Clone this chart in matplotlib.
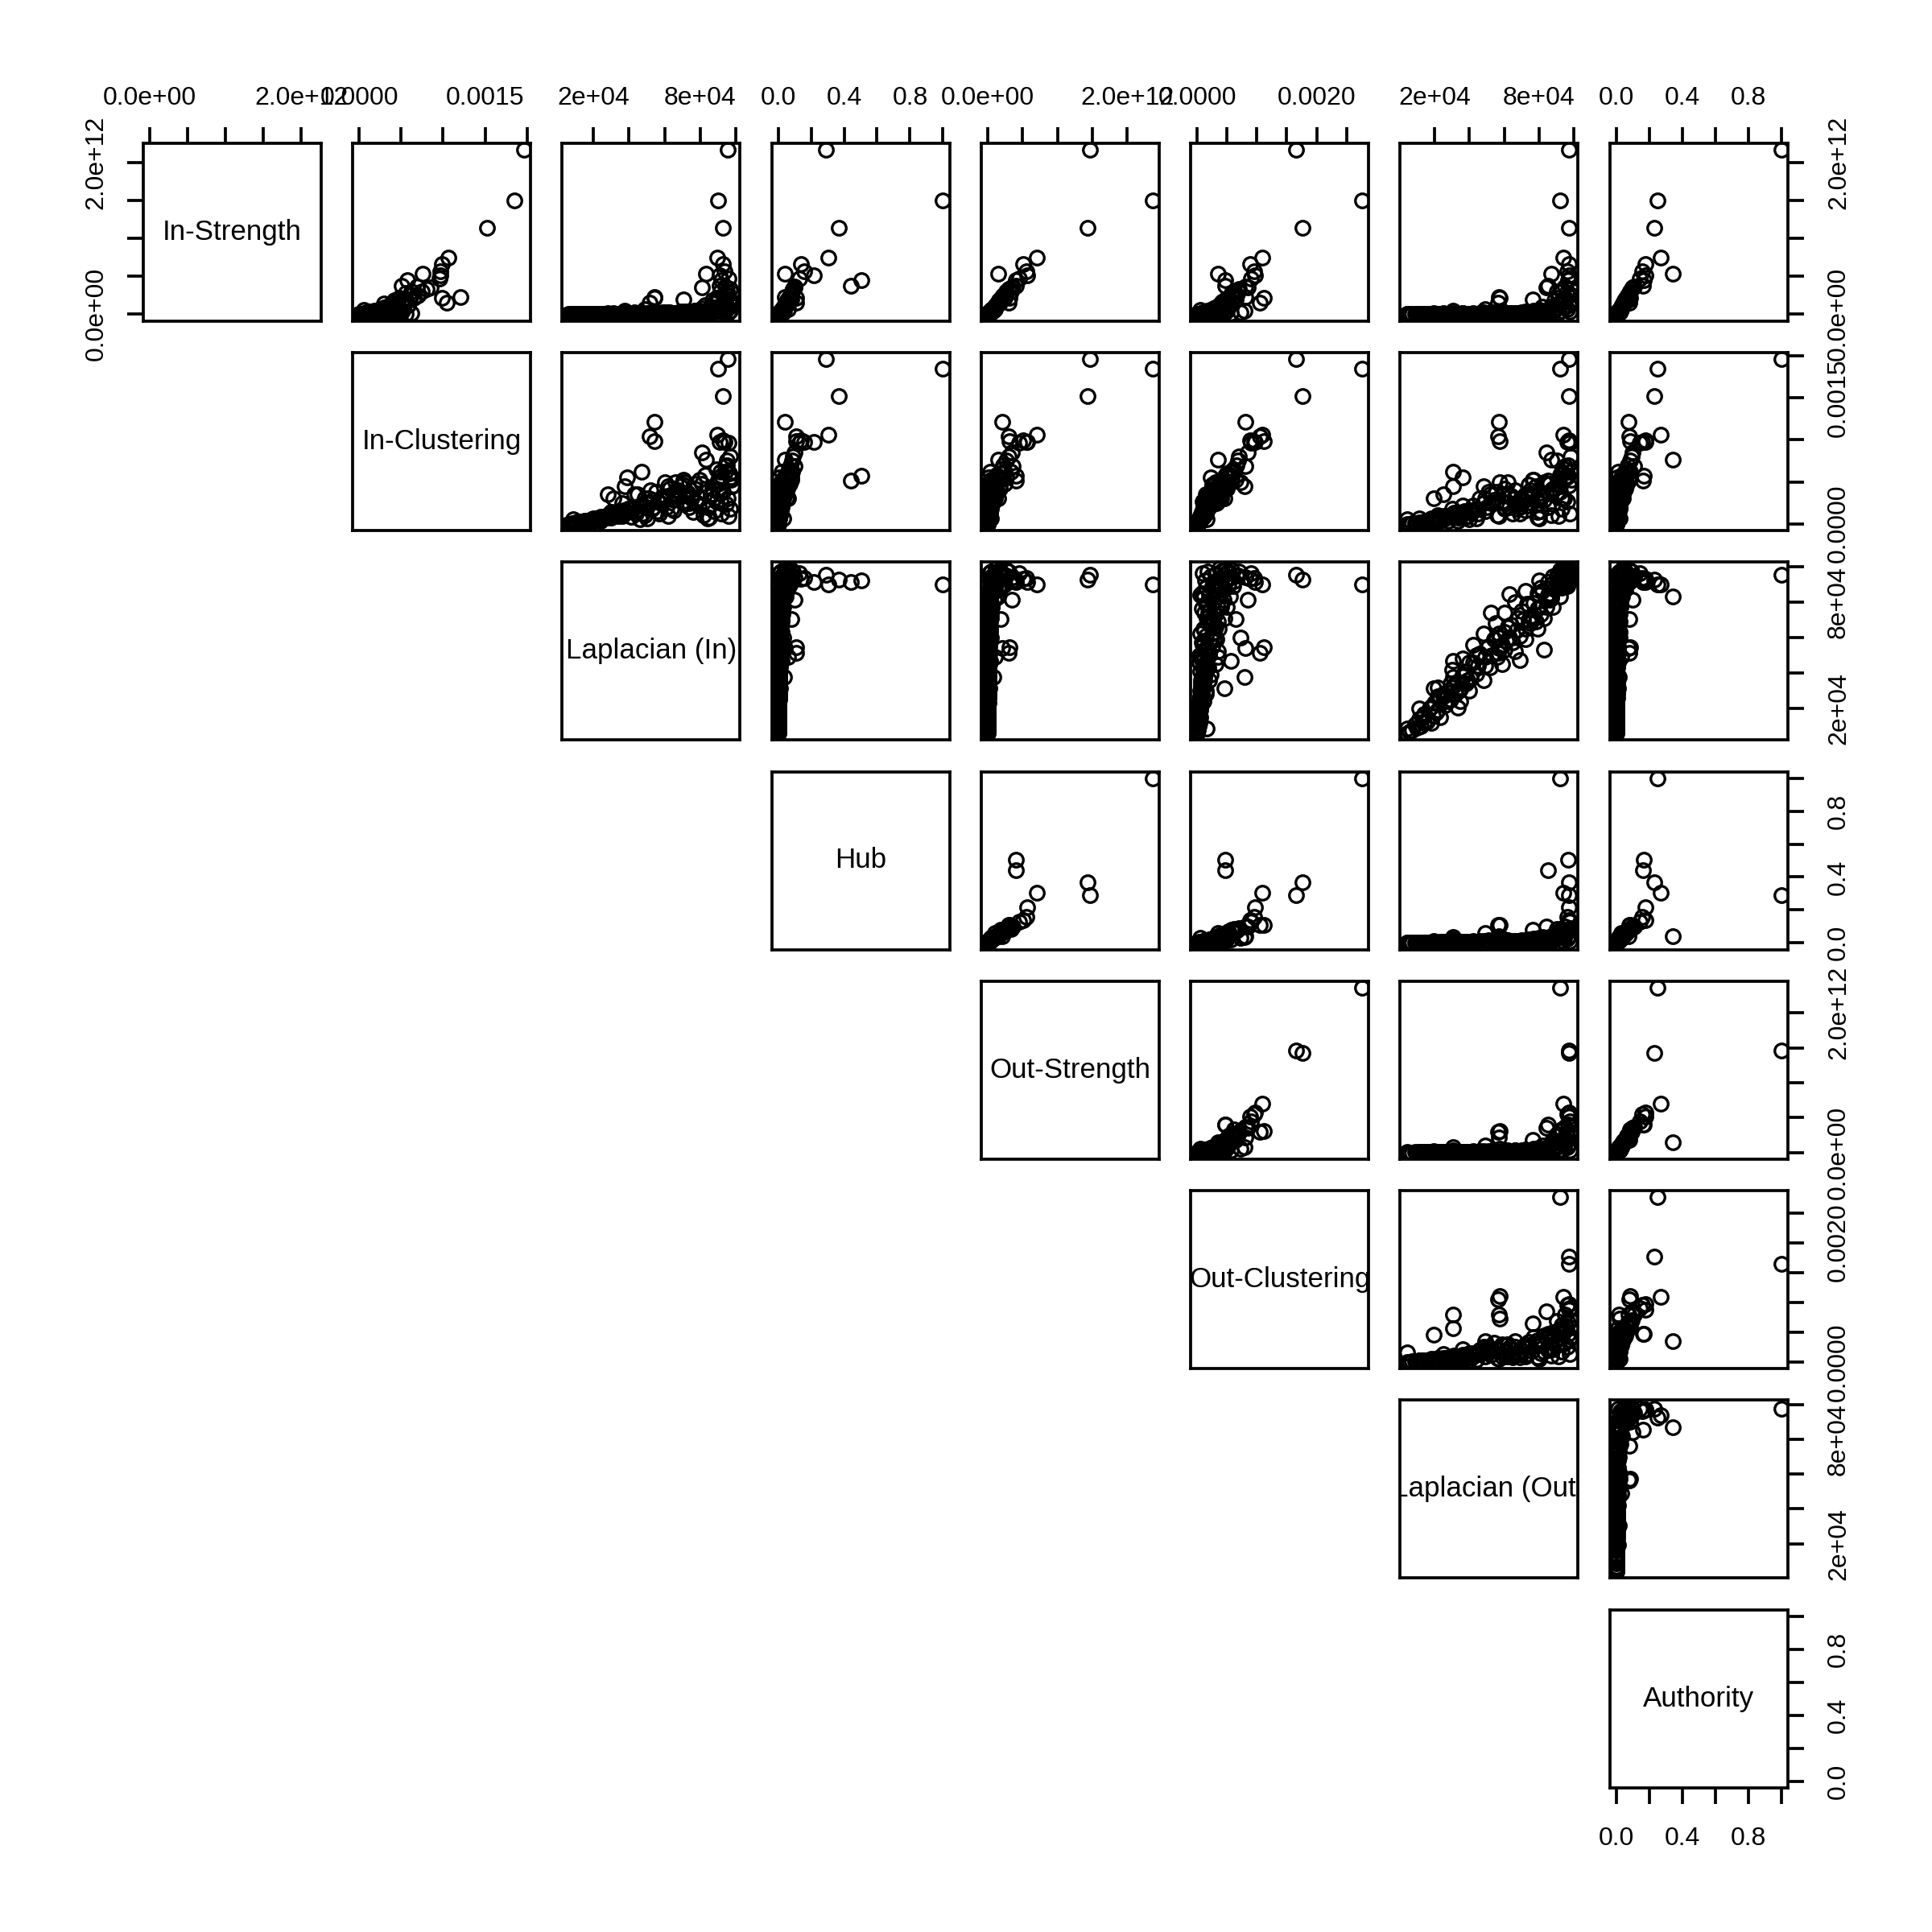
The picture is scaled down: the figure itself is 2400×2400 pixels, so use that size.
# pairs plot of node centrality measures (upper panels only, R-style)
import numpy as np
import matplotlib.pyplot as plt

plt.rcParams['font.family'] = ['Liberation Sans', 'DejaVu Sans']

names = ["In-Strength", "In-Clustering", "Laplacian (In)", "Hub",
         "Out-Strength", "Out-Clustering", "Laplacian (Out)", "Authority"]

# values; groups: outliers | specials | high | mid | low | spread
in_strength = np.array([
    2.17, 1.50, 1.14, 0.225, 0.213, 0.155, 0.455, 0.377, 0.743, 0.51, 0.535, 0.666, 0.05,
    0.02, 0.01, 0.03, 0.19, 0.002, 0.07, 0.01, 0.008, 0.003, 0.005, 0.012, 0.006, 0.01, 0.02, 0.03, 0.06,
    0.57, 0.47, 0.37, 0.33, 0.30, 0.28, 0.25, 0.22, 0.20, 0.18, 0.16, 0.14, 0.12,
    0.10, 0.09, 0.08, 0.07, 0.06, 0.05, 0.045, 0.04, 0.035, 0.03, 0.025, 0.02, 0.35,
    0.004, 0.008, 0.012, 0.006, 0.015, 0.010, 0.020, 0.007, 0.025, 0.012, 0.030, 0.009, 0.018, 0.035, 0.014,
    0.040, 0.022, 0.050, 0.016, 0.028, 0.005, 0.011, 0.006, 0.013, 0.008, 0.045, 0.003, 0.010, 0.007, 0.015,
    0.000, 0.001, 0.001, 0.002, 0.001, 0.002, 0.003, 0.002, 0.003, 0.004, 0.003, 0.005,
    0.004, 0.006, 0.005, 0.007, 0.006, 0.008, 0.007, 0.009, 0.008, 0.010, 0.009, 0.001,
    0.002, 0.002, 0.003, 0.003, 0.004, 0.004, 0.005, 0.006, 0.007, 0.008, 0.008,
    0.004, 0.01, 0.008, 0.015, 0.01, 0.02, 0.008, 0.018, 0.025, 0.02, 0.02, 0.04, 0.01, 0.05, 0.02,
    0.12, 0.04, 0.22, 0.06, 0.30, 0.004, 0.002, 0.002, 0.006, 0.012, 0.015, 0.018, 0.08, 0.10, 0.18,
    0.006, 0.01, 0.02, 0.03, 0.14, 0.26, 0.15, 0.004, 0.001, 0.003,
]) * 1e12

in_clustering = np.array([
    1.96, 1.85, 1.52, 1.21, 0.985, 1.04, 0.57, 0.51, 1.06, 0.97, 0.76, 0.99, 0.45,
    0.62, 0.30, 0.50, 0.52, 0.05, 0.30, 0.20, 0.25, 0.04, 0.12, 0.28, 0.55, 0.35, 0.50, 0.47, 0.06,
    0.97, 0.96, 0.69, 0.80, 0.62, 0.55, 0.70, 0.48, 0.60, 0.42, 0.52, 0.38, 0.46,
    0.33, 0.30, 0.36, 0.27, 0.24, 0.20, 0.18, 0.15, 0.12, 0.10, 0.09, 0.07, 0.85,
    0.08, 0.15, 0.22, 0.10, 0.30, 0.18, 0.38, 0.12, 0.28, 0.20, 0.42, 0.16, 0.33, 0.45, 0.24,
    0.37, 0.30, 0.48, 0.22, 0.35, 0.06, 0.25, 0.09, 0.40, 0.14, 0.52, 0.05, 0.27, 0.18, 0.34,
    0.00, 0.01, 0.02, 0.01, 0.03, 0.02, 0.04, 0.03, 0.05, 0.04, 0.06, 0.05,
    0.08, 0.07, 0.10, 0.09, 0.12, 0.10, 0.14, 0.11, 0.16, 0.13, 0.18, 0.00,
    0.01, 0.02, 0.02, 0.03, 0.06, 0.04, 0.09, 0.07, 0.13, 0.09, 0.15,
    0.10, 0.25, 0.18, 0.35, 0.22, 0.40, 0.15, 0.32, 0.45, 0.28, 0.38, 0.50, 0.20, 0.42, 0.30,
    0.58, 0.35, 0.65, 0.25, 0.75, 0.08, 0.04, 0.06, 0.14, 0.26, 0.32, 0.27, 0.48, 0.40, 0.55,
    0.12, 0.20, 0.36, 0.26, 0.30, 0.62, 0.45, 0.09, 0.03, 0.07,
]) * 1e-3

laplacian_in = np.array([
    9.53, 9.00, 9.26, 5.42, 5.45, 5.15, 9.20, 9.10, 8.96, 9.10, 8.31, 9.30, 3.77,
    4.70, 3.13, 6.00, 7.05, 0.85, 4.90, 8.45, 7.40, 2.04, 4.73, 5.33, 3.90, 2.80, 6.60, 7.00, 8.40,
    9.35, 9.60, 9.40, 9.70, 9.15, 9.80, 9.50, 9.00, 9.65, 8.70, 9.75, 9.30, 9.87,
    8.60, 9.55, 9.10, 8.90, 9.45, 8.40, 9.70, 8.80, 9.20, 8.20, 9.60, 8.50, 8.10,
    4.10, 4.40, 4.60, 4.90, 5.10, 5.30, 5.50, 5.70, 5.90, 6.10, 6.30, 6.50, 6.70, 6.90, 7.10,
    7.30, 7.50, 7.70, 7.90, 4.30, 5.00, 5.80, 6.20, 6.80, 7.60, 7.95, 4.60, 5.60, 6.40, 7.20,
    0.60, 0.80, 1.00, 1.10, 1.30, 1.40, 1.60, 1.70, 1.90, 2.00, 2.20, 2.30,
    2.50, 2.60, 2.80, 2.90, 3.10, 3.20, 3.40, 3.50, 3.70, 3.80, 3.95, 0.70,
    0.90, 1.20, 1.50, 1.80, 2.10, 2.40, 2.70, 3.00, 3.30, 3.60, 3.85,
    3.20, 3.60, 4.20, 4.50, 4.80, 5.20, 5.60, 5.90, 6.20, 6.50, 6.80, 7.10, 7.40, 7.70, 8.00,
    8.30, 8.60, 8.90, 9.20, 9.50, 2.40, 1.50, 2.00, 3.00, 5.00, 6.00, 7.00, 8.10, 9.00, 9.70,
    4.40, 5.40, 6.60, 7.80, 8.80, 9.40, 9.80, 3.40, 1.20, 2.70,
]) * 1e4

hub = np.array([
    0.29, 1.00, 0.37, 0.04, 0.11, 0.11, 0.505, 0.443, 0.305, 0.215, 0.04, 0.14, 0.036,
    0.02, 0.01, 0.03, 0.078, 0.003, 0.06, 0.01, 0.008, 0.003, 0.005, 0.01, 0.006, 0.008, 0.015, 0.02, 0.03,
    0.16, 0.13, 0.10, 0.09, 0.085, 0.08, 0.075, 0.07, 0.06, 0.055, 0.05, 0.045, 0.04,
    0.035, 0.03, 0.03, 0.025, 0.022, 0.02, 0.018, 0.015, 0.012, 0.01, 0.008, 0.007, 0.10,
    0.004, 0.006, 0.009, 0.005, 0.012, 0.008, 0.015, 0.006, 0.018, 0.009, 0.020, 0.007, 0.013, 0.022, 0.010,
    0.025, 0.015, 0.030, 0.012, 0.010, 0.004, 0.008, 0.005, 0.009, 0.006, 0.028, 0.003, 0.008, 0.006, 0.011,
    0.000, 0.001, 0.001, 0.002, 0.001, 0.001, 0.002, 0.002, 0.002, 0.003, 0.003, 0.003,
    0.004, 0.004, 0.004, 0.005, 0.005, 0.006, 0.005, 0.006, 0.006, 0.007, 0.007, 0.001,
    0.001, 0.001, 0.002, 0.002, 0.003, 0.003, 0.004, 0.004, 0.005, 0.006, 0.006,
    0.003, 0.006, 0.005, 0.01, 0.006, 0.012, 0.005, 0.011, 0.01, 0.014, 0.01, 0.02, 0.006, 0.025, 0.012,
    0.045, 0.018, 0.065, 0.025, 0.085, 0.003, 0.001, 0.001, 0.004, 0.007, 0.009, 0.01, 0.03, 0.035, 0.055,
    0.004, 0.006, 0.011, 0.015, 0.05, 0.08, 0.055, 0.003, 0.001, 0.002,
])

out_strength = np.array([
    1.46, 2.36, 1.43, 0.21, 0.31, 0.30, 0.40, 0.40, 0.70, 0.57, 0.15, 0.51, 0.08,
    0.03, 0.02, 0.05, 0.18, 0.002, 0.10, 0.015, 0.012, 0.004, 0.006, 0.015, 0.008, 0.01, 0.025, 0.035, 0.05,
    0.55, 0.45, 0.36, 0.30, 0.33, 0.27, 0.22, 0.24, 0.19, 0.17, 0.15, 0.14, 0.12,
    0.10, 0.09, 0.08, 0.075, 0.06, 0.05, 0.045, 0.04, 0.035, 0.03, 0.025, 0.02, 0.35,
    0.005, 0.009, 0.014, 0.007, 0.018, 0.012, 0.022, 0.008, 0.028, 0.015, 0.035, 0.011, 0.020, 0.040, 0.016,
    0.045, 0.025, 0.055, 0.018, 0.012, 0.006, 0.013, 0.007, 0.015, 0.009, 0.050, 0.004, 0.011, 0.008, 0.017,
    0.000, 0.001, 0.001, 0.002, 0.002, 0.002, 0.003, 0.003, 0.004, 0.004, 0.004, 0.006,
    0.005, 0.007, 0.006, 0.008, 0.007, 0.009, 0.008, 0.010, 0.009, 0.011, 0.010, 0.001,
    0.001, 0.002, 0.003, 0.003, 0.005, 0.005, 0.006, 0.007, 0.008, 0.009, 0.009,
    0.005, 0.012, 0.01, 0.02, 0.012, 0.025, 0.01, 0.022, 0.02, 0.03, 0.02, 0.05, 0.012, 0.06, 0.025,
    0.13, 0.04, 0.20, 0.07, 0.26, 0.005, 0.002, 0.002, 0.007, 0.014, 0.018, 0.02, 0.09, 0.11, 0.16,
    0.007, 0.012, 0.022, 0.035, 0.15, 0.24, 0.17, 0.005, 0.001, 0.003,
]) * 1e12

out_clustering = np.array([
    1.65, 2.76, 1.76, 0.80, 1.11, 1.05, 0.47, 0.47, 1.09, 0.97, 0.35, 0.88, 0.79,
    0.56, 0.456, 0.73, 0.64, 0.16, 0.35, 0.10, 0.12, 0.03, 0.08, 0.18, 0.22, 0.14, 0.30, 0.25, 0.05,
    0.95, 0.90, 0.80, 0.70, 0.62, 0.58, 0.66, 0.52, 0.50, 0.45, 0.42, 0.40, 0.38,
    0.34, 0.31, 0.28, 0.25, 0.22, 0.20, 0.17, 0.15, 0.13, 0.11, 0.09, 0.08, 0.85,
    0.05, 0.10, 0.15, 0.06, 0.20, 0.12, 0.25, 0.08, 0.32, 0.14, 0.28, 0.10, 0.22, 0.35, 0.16,
    0.30, 0.20, 0.40, 0.14, 0.18, 0.04, 0.10, 0.05, 0.26, 0.08, 0.42, 0.03, 0.09, 0.12, 0.19,
    0.00, 0.01, 0.02, 0.01, 0.03, 0.02, 0.04, 0.02, 0.05, 0.03, 0.06, 0.04,
    0.07, 0.05, 0.08, 0.06, 0.09, 0.07, 0.10, 0.08, 0.12, 0.09, 0.13, 0.00,
    0.01, 0.01, 0.03, 0.02, 0.05, 0.03, 0.07, 0.05, 0.11, 0.06, 0.11,
    0.06, 0.20, 0.10, 0.30, 0.12, 0.35, 0.10, 0.28, 0.25, 0.36, 0.22, 0.45, 0.18, 0.50, 0.26,
    0.55, 0.30, 0.60, 0.32, 0.68, 0.10, 0.05, 0.03, 0.15, 0.20, 0.24, 0.26, 0.44, 0.38, 0.52,
    0.14, 0.17, 0.29, 0.33, 0.40, 0.58, 0.47, 0.07, 0.04, 0.05,
]) * 1e-3

laplacian_out = np.array([
    9.73, 9.22, 9.73, 5.70, 5.74, 5.64, 9.66, 8.53, 9.40, 9.70, 8.70, 9.70, 3.04,
    3.04, 1.96, 5.74, 7.63, 0.44, 4.90, 6.30, 5.24, 3.32, 6.88, 8.30, 3.60, 2.50, 6.20, 7.40, 8.00,
    9.60, 9.75, 9.50, 9.80, 9.30, 9.55, 9.65, 9.10, 9.40, 8.90, 9.86, 9.20, 9.70,
    8.20, 9.45, 9.00, 9.60, 8.80, 8.50, 9.30, 8.10, 9.75, 8.70, 9.10, 7.90, 8.40,
    3.80, 4.90, 4.20, 5.60, 4.60, 6.00, 5.10, 6.50, 5.40, 6.90, 6.00, 7.20, 6.40, 7.80, 6.80,
    8.10, 7.00, 8.40, 7.30, 5.20, 4.40, 6.10, 5.70, 7.50, 7.90, 7.70, 4.00, 5.90, 6.70, 7.60,
    0.41, 0.70, 1.20, 0.90, 1.60, 1.10, 1.90, 1.40, 2.20, 1.70, 2.60, 2.00,
    2.90, 2.30, 3.20, 2.70, 3.50, 3.00, 3.80, 3.30, 4.10, 3.60, 4.40, 0.55,
    1.00, 1.40, 1.30, 2.10, 1.80, 2.80, 2.50, 3.40, 3.10, 3.90, 3.70,
    2.20, 4.80, 3.00, 5.90, 3.60, 6.60, 4.20, 7.20, 4.80, 7.90, 5.50, 8.30, 6.00, 8.80, 6.60,
    9.20, 7.20, 9.50, 8.00, 9.00, 3.50, 2.30, 1.10, 4.00, 5.30, 6.30, 7.10, 8.60, 8.70, 9.50,
    4.50, 5.00, 6.20, 7.40, 9.30, 9.80, 9.20, 2.90, 1.80, 2.20,
]) * 1e4

authority = np.array([
    1.00, 0.25, 0.23, 0.075, 0.085, 0.08, 0.168, 0.16, 0.27, 0.175, 0.343, 0.178, 0.017,
    0.010, 0.008, 0.020, 0.080, 0.002, 0.030, 0.008, 0.006, 0.002, 0.004, 0.009, 0.005, 0.006, 0.012, 0.015, 0.02,
    0.155, 0.14, 0.11, 0.095, 0.085, 0.08, 0.07, 0.065, 0.06, 0.055, 0.05, 0.045, 0.04,
    0.035, 0.03, 0.028, 0.025, 0.022, 0.02, 0.018, 0.015, 0.012, 0.01, 0.008, 0.007, 0.10,
    0.003, 0.005, 0.008, 0.004, 0.010, 0.007, 0.012, 0.005, 0.015, 0.008, 0.018, 0.006, 0.011, 0.020, 0.009,
    0.022, 0.013, 0.025, 0.010, 0.007, 0.003, 0.006, 0.004, 0.008, 0.005, 0.024, 0.002, 0.006, 0.005, 0.010,
    0.000, 0.001, 0.001, 0.001, 0.001, 0.002, 0.002, 0.001, 0.002, 0.003, 0.002, 0.003,
    0.003, 0.004, 0.003, 0.004, 0.004, 0.005, 0.004, 0.005, 0.005, 0.006, 0.005, 0.001,
    0.001, 0.001, 0.002, 0.002, 0.003, 0.003, 0.003, 0.004, 0.004, 0.005, 0.005,
    0.002, 0.004, 0.003, 0.006, 0.004, 0.007, 0.003, 0.006, 0.008, 0.007, 0.007, 0.012, 0.004, 0.015, 0.007,
    0.035, 0.012, 0.06, 0.018, 0.085, 0.002, 0.001, 0.001, 0.003, 0.005, 0.006, 0.006, 0.024, 0.03, 0.05,
    0.003, 0.004, 0.007, 0.01, 0.04, 0.075, 0.045, 0.002, 0.001, 0.001,
])

# axis ticks and the labels R kept after dropping overlapping ones
strength_ticks = [0, 0.5e12, 1.0e12, 1.5e12, 2.0e12]
strength_labels = ["0.0e+00", "", "", "", "2.0e+12"]
in_clust_ticks = [0, 0.0005, 0.0010, 0.0015, 0.0020]
in_clust_labels = ["0.0000", "", "", "0.0015", ""]
lap_ticks = [2e4, 4e4, 6e4, 8e4, 1e5]
lap_labels = ["2e+04", "", "", "8e+04", ""]
score_ticks = [0, 0.2, 0.4, 0.6, 0.8, 1.0]
score_labels = ["0.0", "", "0.4", "", "0.8", ""]
out_clust_ticks = [0, 0.0005, 0.0010, 0.0015, 0.0020, 0.0025]
out_clust_labels = ["0.0000", "", "", "", "0.0020", ""]

cols = [in_strength, in_clustering, laplacian_in, hub,
        out_strength, out_clustering, laplacian_out, authority]
ticks = [strength_ticks, in_clust_ticks, lap_ticks, score_ticks,
         strength_ticks, out_clust_ticks, lap_ticks, score_ticks]
labels = [strength_labels, in_clust_labels, lap_labels, score_labels,
          strength_labels, out_clust_labels, lap_labels, score_labels]

n = len(cols)
assert all(len(c) == len(cols[0]) for c in cols)

# R-style limits: data range stretched by 4% on each side
lims = []
for c in cols:
    r = c.max() - c.min()
    lims.append((c.min() - 0.04 * r, c.max() + 0.04 * r))

fig = plt.figure(figsize=(8, 8), dpi=300)
x0 = 177.6 / 2400
step = 260.3 / 2400
w = 221 / 2400
tick_pt = 4.8
lab_size = 7.7
line_w = 0.9

for i in range(n):
    for j in range(i, n):
        ax = fig.add_axes([x0 + j * step, 1 - (x0 + i * step) - w, w, w])
        ax.set_xlim(lims[j])
        ax.set_ylim(lims[i])
        for s in ax.spines.values():
            s.set_linewidth(line_w)
        ax.tick_params(which="both", top=False, bottom=False, left=False, right=False,
                       labeltop=False, labelbottom=False, labelleft=False, labelright=False,
                       direction="out", length=tick_pt, width=line_w, labelsize=lab_size)
        ax.set_xticks([])
        ax.set_yticks([])

        if i == j:
            ax.text(0.5, 0.5, names[i], transform=ax.transAxes, ha="center", va="center",
                    fontsize=8.4, clip_on=True)
        else:
            ax.plot(cols[j], cols[i], "o", mfc="none", mec="black", ms=4.2, mew=0.8)

        # top axis on the first row, bottom axis under the last panel
        if i == 0 or i == n - 1:
            ax.set_xticks(ticks[j], labels[j])
            ax.tick_params(axis="x", top=(i == 0), labeltop=(i == 0),
                           bottom=(i == n - 1), labelbottom=(i == n - 1),
                           pad=5 if i == 0 else 6.8)
        # right axis on the last column, left axis on the first panel
        if j == n - 1 or j == 0:
            ax.set_yticks(ticks[i], labels[i])
            ax.tick_params(axis="y", right=(j == n - 1), labelright=(j == n - 1),
                           left=(j == 0), labelleft=(j == 0), labelrotation=90,
                           pad=6.8 if j == n - 1 else 5.5)
            for t in ax.get_yticklabels():
                t.set_verticalalignment("center")

fig.savefig("out.png", dpi=300, facecolor="white")
